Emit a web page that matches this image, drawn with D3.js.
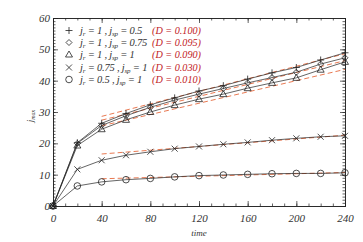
<!DOCTYPE html>
<html>
<head>
<meta charset="utf-8">
<script src="https://cdn.jsdelivr.net/npm/d3@7"></script>
<style>
body{margin:0;background:#fff;}
text{font-family:"Liberation Serif","DejaVu Serif",serif;font-style:italic;}
</style>
</head>
<body>
<script>
var times=[0,20,40,60,80,100,120,140,160,180,200,220,240]
var sPlus=[0,20.2,26.4,29.5,32.3,34.5,36.7,38.4,40.5,42.5,44.2,46.6,48.9]
var sDiam=[0,20.0,25.7,28.8,31.5,33.8,35.7,37.5,39.3,41.0,42.7,45.3,47.3]
var sTri=[0,19.3,24.5,27.5,30.0,32.2,34.1,35.7,37.6,39.3,40.9,43.5,46.0]
var sCross=[0,11.7,14.6,16.2,17.3,18.3,19.0,19.7,20.3,21.0,21.6,22.1,22.4]
var sCirc=[0,6.4,7.7,8.4,8.8,9.3,9.7,9.9,10.1,10.3,10.4,10.4,10.6]
var symbols=["plus","diamond","triangle","cross","circle"]
var jr=["1","1","1","0.75","0.5"]
var jsp=["0.5","0.75","1","1","1"]
var dVals=["0.100","0.095","0.090","0.030","0.010"]
var fitT=[40,240]
var fitStart=[28.6,27.4,25.6,16.6,8.7]
var fitEnd=[48.6,46.4,43.6,22.6,10.7]
var xTicks=[0,40,80,120,160,200,240]
var yTicks=[0,10,20,30,40,50,60]

var W=363,H=242
var svg=d3.select("body").append("svg").attr("width",W).attr("height",H)
var x=d3.scaleLinear().domain([0,240]).range([53,345])
var y=d3.scaleLinear().domain([0,60]).range([206,18])
var series=[sPlus,sDiam,sTri,sCross,sCirc]
var ink="#222"
var fitColor="#e56a3e"
var red="#bf2026"

// axes, ticks point inward on all four sides
function axisG(gen,tx,ty){
  var g=svg.append("g").attr("transform","translate("+tx+","+ty+")").call(gen)
  g.select(".domain").attr("stroke",ink).attr("stroke-width",0.8)
  g.selectAll(".tick line").attr("stroke",ink).attr("stroke-width",0.7)
  g.selectAll("text").attr("fill","#333").style("font-size","11px")
  return g
}
var minorX=d3.range(0,241,10)
var minorY=d3.range(0,61,1)
axisG(d3.axisBottom(x).tickValues(minorX).tickSize(-2.5).tickFormat(""),0,206)
axisG(d3.axisTop(x).tickValues(minorX).tickSize(-2.5).tickFormat(""),0,18)
axisG(d3.axisLeft(y).tickValues(minorY).tickSize(-2.5).tickFormat(""),53,0)
axisG(d3.axisRight(y).tickValues(minorY).tickSize(-2.5).tickFormat(""),345,0)
var bx=axisG(d3.axisBottom(x).tickValues(xTicks).tickSize(-5).tickPadding(7),0,206)
bx.selectAll("text").attr("dy","0.8em")
axisG(d3.axisTop(x).tickValues(xTicks).tickSize(-5).tickFormat(""),0,18)
axisG(d3.axisLeft(y).tickValues(yTicks).tickSize(-5).tickPadding(3),53,0)
axisG(d3.axisRight(y).tickValues(yTicks).tickSize(-5).tickFormat(""),345,0)

// axis titles
var yl=svg.append("text").attr("transform","translate(33,116) rotate(-90)")
  .attr("text-anchor","middle").attr("fill","#333").style("font-size","9px")
yl.append("tspan").text("j")
yl.append("tspan").attr("dy",2).style("font-size","6px").text("max")
svg.append("text").attr("x",199).attr("y",236).attr("text-anchor","middle")
  .attr("fill","#333").style("font-size","9px").text("time")

// fit lines
svg.selectAll("line.fit").data(fitStart).enter().append("line")
  .attr("class","fit")
  .attr("x1",x(fitT[0])).attr("x2",x(fitT[1]))
  .attr("y1",function(d){return y(d)})
  .attr("y2",function(d,i){return y(fitEnd[i])})
  .attr("stroke",fitColor).attr("stroke-width",0.9).attr("stroke-dasharray","5,3")

// data lines
var line=d3.line().x(function(d,i){return x(times[i])}).y(function(d){return y(d)})
series.forEach(function(s){
  svg.append("path").attr("d",line(s)).attr("fill","none")
    .attr("stroke",ink).attr("stroke-width",0.7)
})

function drawSym(g,type){
  var st={fill:"none",stroke:ink,"stroke-width":0.8}
  var p
  if(type=="plus") p=g.append("path").attr("d","M-3.5,0H3.5M0,-3.5V3.5")
  if(type=="cross") p=g.append("path").attr("d","M-3,-3L3,3M-3,3L3,-3")
  if(type=="diamond") p=g.append("path").attr("d","M0,-3L3,0L0,3L-3,0Z")
  if(type=="triangle") p=g.append("path").attr("d","M0,-3.5L3.5,2.5L-3.5,2.5Z")
  if(type=="circle") p=g.append("circle").attr("r",3.3)
  for(var k in st) p.attr(k,st[k])
}
series.forEach(function(s,si){
  s.forEach(function(v,i){
    var g=svg.append("g").attr("transform","translate("+x(times[i])+","+y(v)+")")
    drawSym(g,symbols[si])
  })
})

// legend
var rowY=[34,46,58,71,83]
symbols.forEach(function(sym,i){
  var g=svg.append("g").attr("transform","translate(69,"+(rowY[i]-3.5)+")")
  drawSym(g,sym)
  var t=svg.append("text").attr("x",80).attr("y",rowY[i]).attr("fill","#333")
    .style("font-size","10.5px").style("letter-spacing","-0.2px")
  t.append("tspan").text("j")
  t.append("tspan").attr("dy",2).style("font-size","7px").text("r")
  t.append("tspan").attr("dy",-2).text(" = "+jr[i]+" , j")
  t.append("tspan").attr("dy",2).style("font-size","7px").text("sp")
  t.append("tspan").attr("dy",-2).text(" = "+jsp[i])
  svg.append("text").attr("x",152).attr("y",rowY[i]).attr("fill",red)
    .style("font-size","11px").attr("textLength",49).attr("lengthAdjust","spacingAndGlyphs")
    .text("(D = "+dVals[i]+")")
})
</script>
</body>
</html>
